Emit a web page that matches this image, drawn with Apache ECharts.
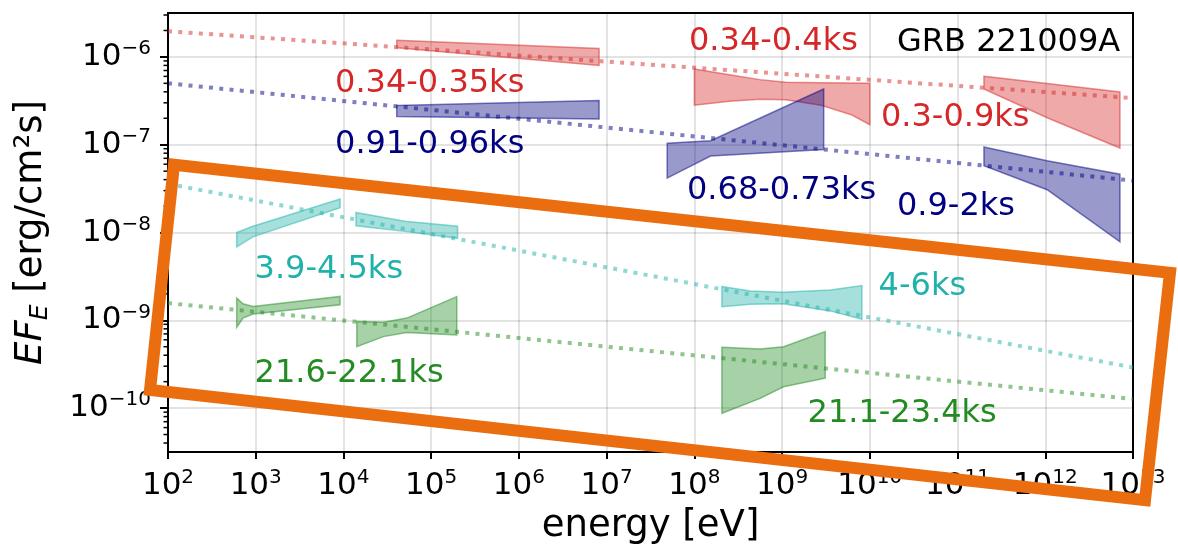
<!DOCTYPE html>
<html>
<head>
<meta charset="utf-8">
<script src="https://cdn.jsdelivr.net/npm/echarts@6/dist/echarts.min.js"></script>
<style>
  html, body { margin: 0; padding: 0; background: #ffffff; }
  #chart { width: 1178px; height: 548px; }
</style>
</head>
<body>
<div id="chart"></div>
<script>
// ---- axis decades (log10 of energy in eV, log10 of EF_E) ----
const xDecades = [2, 3, 4, 5, 6, 7, 8, 9, 10, 11, 12, 13];
const yDecades = [-10, -9, -8, -7, -6];
const minorMultipliers = [2, 3, 4, 5, 6, 7, 8, 9];

// ---- butterfly bands: rows of [energy (eV), upper EF_E, lower EF_E] (erg/cm^2/s) ----
const band034_035 = [[4.05e4, 1.55e-6, 1.27e-6], [8.2e6, 1.25e-6, 8.0e-7]];
const band091_096 = [[4.05e4, 2.79e-7, 2.10e-7], [8.2e6, 3.18e-7, 1.96e-7]];
const band034_040 = [[1.0e8, 7.26e-7, 2.82e-7], [2.5e8, 6.28e-7, 3.13e-7], [5.6e8, 5.51e-7, 3.30e-7],
                     [1.1e9, 5.13e-7, 3.26e-7], [2.8e9, 5.07e-7, 2.82e-7], [6.3e9, 5.05e-7, 2.17e-7],
                     [1.0e10, 5.02e-7, 1.69e-7]];
const band068_073 = [[4.9e7, 1.04e-7, 4.17e-8], [1.53e8, 1.11e-7, 7.43e-8], [2.98e9, 4.31e-7, 8.83e-8]];
const band03_09   = [[2.0e11, 6.01e-7, 4.31e-7], [1.05e12, 4.98e-7, 2.03e-7], [7.1e12, 3.99e-7, 9.16e-8]];
const band09_2    = [[2.0e11, 9.42e-8, 5.77e-8], [1.05e12, 6.58e-8, 3.07e-8], [7.1e12, 4.61e-8, 7.83e-9]];
const band39_45a  = [[6.07e2, 1.0e-8, 6.87e-9], [9.3e2, 1.18e-8, 8.93e-9], [9.15e3, 2.40e-8, 1.91e-8]];
const band39_45b  = [[1.39e4, 1.69e-8, 1.19e-8], [5.0e4, 1.34e-8, 1.03e-8], [2.0e5, 1.18e-8, 8.59e-9]];
const band4_6     = [[2.06e8, 2.42e-9, 1.43e-9], [4.32e8, 2.16e-9, 1.52e-9], [1.03e9, 2.09e-9, 1.54e-9],
                     [3.54e9, 2.22e-9, 1.28e-9], [8.13e9, 2.49e-9, 1.03e-9]];
const band216_221a = [[6.07e2, 1.79e-9, 8.30e-10], [7.16e2, 1.54e-9, 1.06e-9], [9.31e2, 1.44e-9, 1.18e-9],
                      [9.15e3, 1.87e-9, 1.50e-9]];
const band216_221b = [[1.42e4, 9.66e-10, 5.01e-10], [2.86e4, 9.51e-10, 6.52e-10], [5.27e4, 1.06e-9, 7.24e-10],
                      [1.96e5, 1.86e-9, 6.81e-10]];
const band211_234 = [[2.06e8, 4.93e-10, 8.73e-11], [5.62e8, 4.72e-10, 1.29e-10], [1.04e9, 5.01e-10, 1.75e-10],
                     [3.1e9, 7.43e-10, 2.19e-10]];

// ---- power-law model lines: [energy (eV), EF_E] end points ----
const modelRed   = [[1e2, 1.96e-6], [1e13, 3.4e-7]];
const modelNavy  = [[1e2, 5.0e-7], [1e13, 3.9e-8]];
const modelTeal  = [[1e2, 3.58e-8], [1e13, 2.9e-10]];
const modelGreen = [[1e2, 1.57e-9], [1e13, 1.27e-10]];

// ---- time-interval labels and where they sit (energy, EF_E) ----
const labelTexts   = ['0.34-0.35ks', '0.91-0.96ks', '0.34-0.4ks', '0.68-0.73ks', '0.3-0.9ks', '0.9-2ks',
                      '3.9-4.5ks', '4-6ks', '21.6-22.1ks', '21.1-23.4ks', 'GRB 221009A'];
const labelAnchors = [[8.02e3, 4.97e-7], [8.02e3, 9.93e-8], [8.69e7, 1.48e-6], [8.24e7, 3.01e-8],
                      [1.34e10, 2.01e-7], [2.04e10, 1.96e-8], [9.69e2, 3.76e-9], [1.26e10, 2.44e-9],
                      [9.69e2, 2.49e-10], [1.95e9, 8.73e-11], [2.04e10, 1.46e-6]];
const labelColors  = ['red', 'navy', 'red', 'navy', 'red', 'navy', 'teal', 'teal', 'green', 'green', 'black'];

// ---- highlight frame corners (energy, EF_E) ----
const highlightFrame = [[1.17e2, 5.92e-8], [2.64e13, 3.48e-9], [1.37e13, 8.95e-12], [6.24e1, 1.61e-10]];

const palette = {
  red: '214,39,40',
  navy: '0,0,128',
  teal: '32,178,170',
  green: '34,139,34',
  black: '0,0,0'
};
const textColors = { red: '#d62728', navy: '#000080', teal: '#20b2aa', green: '#228b22', black: '#000000' };

const bandList = [
  { rows: band034_035, c: 'red' }, { rows: band091_096, c: 'navy' },
  { rows: band034_040, c: 'red' }, { rows: band068_073, c: 'navy' },
  { rows: band03_09, c: 'red' },   { rows: band09_2, c: 'navy' },
  { rows: band39_45a, c: 'teal' }, { rows: band39_45b, c: 'teal' }, { rows: band4_6, c: 'teal' },
  { rows: band216_221a, c: 'green' }, { rows: band216_221b, c: 'green' }, { rows: band211_234, c: 'green' }
];
const modelList = [
  { pts: modelRed, c: 'red' }, { pts: modelNavy, c: 'navy' },
  { pts: modelTeal, c: 'teal' }, { pts: modelGreen, c: 'green' }
];

const lg = Math.log10;
const FONT = '"DejaVu Sans", "Liberation Sans", sans-serif';
const X_MIN = 2, X_MAX = 13, Y_MIN = -10.5, Y_MAX = -5.5;

const tickRich = {
  b: { fontFamily: FONT, fontSize: 31, lineHeight: 36, color: '#000' },
  s: { fontFamily: FONT, fontSize: 20, lineHeight: 20, verticalAlign: 'top', color: '#000' }
};
function expLabel(v) {
  const r = Math.round(v);
  if (Math.abs(v - r) > 1e-6) return '';
  const e = r < 0 ? '\u2212' + Math.abs(r) : String(r);
  return '{b|10}{s|' + e + '}';
}

const series = [];

// filled butterflies
series.push({
  type: 'custom',
  z: 2,
  silent: true,
  data: bandList.map(b => [lg(b.rows[0][0]), lg(b.rows[0][1])]),
  renderItem: function (params, api) {
    const b = bandList[params.dataIndex];
    const up = b.rows.map(r => api.coord([lg(r[0]), lg(r[1])]));
    const lo = b.rows.map(r => api.coord([lg(r[0]), lg(r[2])])).reverse();
    const rgb = palette[b.c];
    return {
      type: 'polygon',
      shape: { points: up.concat(lo) },
      style: { fill: 'rgba(' + rgb + ',0.4)', stroke: 'rgba(' + rgb + ',0.5)', lineWidth: 1.5 }
    };
  }
});

// dotted model lines
modelList.forEach(m => {
  series.push({
    type: 'line',
    z: 3,
    silent: true,
    showSymbol: false,
    data: m.pts.map(p => [lg(p[0]), lg(p[1])]),
    lineStyle: { color: 'rgba(' + palette[m.c] + ',0.5)', width: 4, type: [4, 6.3], cap: 'butt' }
  });
});

// text labels
series.push({
  type: 'custom',
  z: 4,
  silent: true,
  data: labelAnchors.map(a => [lg(a[0]), lg(a[1])]),
  renderItem: function (params, api) {
    const i = params.dataIndex;
    const p = api.coord([lg(labelAnchors[i][0]), lg(labelAnchors[i][1])]);
    return {
      type: 'text',
      x: p[0], y: p[1],
      style: {
        text: labelTexts[i],
        fill: textColors[labelColors[i]],
        font: '32px ' + FONT,
        align: 'left', verticalAlign: 'middle',
        textAlign: 'left', textVerticalAlign: 'middle'
      }
    };
  }
});

// minor ticks on the log y axis
series.push({
  type: 'custom',
  z: 4,
  silent: true,
  clip: false,
  data: [[X_MIN, Y_MIN]],
  renderItem: function (params, api) {
    const children = [];
    for (let d = -11; d <= -6; d++) {
      minorMultipliers.forEach(k => {
        const v = d + lg(k);
        if (v > Y_MIN && v < Y_MAX) {
          const p = api.coord([X_MIN, v]);
          children.push({
            type: 'line',
            shape: { x1: p[0] - 4.5, y1: p[1], x2: p[0], y2: p[1] },
            style: { stroke: '#000', lineWidth: 1.5 }
          });
        }
      });
    }
    return { type: 'group', children: children };
  }
});

// highlight frame
series.push({
  type: 'custom',
  z: 10,
  silent: true,
  clip: false,
  data: [[X_MIN, Y_MIN]],
  renderItem: function (params, api) {
    const pts = highlightFrame.map(c => api.coord([lg(c[0]), lg(c[1])]));
    return {
      type: 'polygon',
      shape: { points: pts },
      style: { fill: 'none', stroke: '#ea6e10', lineWidth: 12, lineJoin: 'miter' }
    };
  }
});

const option = {
  animation: false,
  backgroundColor: '#ffffff',
  grid: {
    left: 168, top: 13, right: 45, bottom: 96,
    show: true, borderColor: '#000', borderWidth: 2,
    containLabel: false, outerBoundsMode: 'none'
  },
  xAxis: {
    type: 'value',
    min: X_MIN, max: X_MAX, interval: 1,
    name: 'energy [eV]',
    nameLocation: 'middle',
    nameGap: 74,
    nameTextStyle: { fontFamily: FONT, fontSize: 37, color: '#000', verticalAlign: 'middle' },
    axisLine: { show: true, lineStyle: { color: '#000', width: 2 } },
    axisTick: { show: true, length: 7, lineStyle: { color: '#000', width: 2 } },
    splitLine: { show: true, lineStyle: { color: 'rgba(0,0,0,0.11)', width: 2 } },
    axisLabel: { margin: 16, formatter: expLabel, rich: tickRich }
  },
  yAxis: {
    type: 'value',
    min: Y_MIN, max: Y_MAX, splitNumber: 5,
    name: '{i|EF}{sub|E}{t| [erg/cm\u00b2s]}',
    nameLocation: 'middle',
    nameRotate: 90,
    nameGap: 137,
    nameTextStyle: {
      verticalAlign: 'middle',
      rich: {
        i: { fontFamily: FONT, fontStyle: 'italic', fontSize: 37, lineHeight: 44, color: '#000' },
        sub: { fontFamily: FONT, fontStyle: 'italic', fontSize: 25, lineHeight: 28, verticalAlign: 'bottom', color: '#000' },
        t: { fontFamily: FONT, fontSize: 37, lineHeight: 44, color: '#000' }
      }
    },
    axisLine: { show: true, lineStyle: { color: '#000', width: 2 } },
    axisTick: { show: true, length: 8, lineStyle: { color: '#000', width: 2 } },
    splitLine: { show: true, lineStyle: { color: 'rgba(0,0,0,0.11)', width: 2 } },
    axisLabel: { margin: 17, showMinLabel: false, showMaxLabel: false, formatter: expLabel, rich: tickRich }
  },
  series: series
};

const chart = echarts.init(document.getElementById('chart'), null, { renderer: 'canvas' });
chart.setOption(option);
</script>
</body>
</html>
